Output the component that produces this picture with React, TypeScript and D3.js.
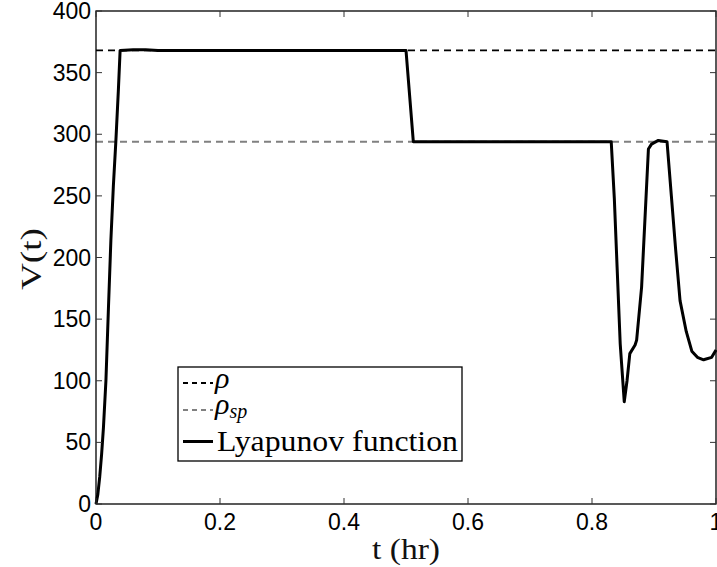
import React from "react";
import * as d3 from "d3";

const W = 717;
const H = 567;

// Lyapunov function samples (t in hr, V)
const tValues = [
  0, 0.003, 0.006, 0.009, 0.012, 0.016, 0.02, 0.024, 0.028, 0.032, 0.036, 0.0389,
  0.06, 0.08, 0.1, 0.3, 0.5, 0.5118, 0.7, 0.831,
  0.836, 0.8405, 0.8455, 0.852, 0.8565, 0.861, 0.8695, 0.872, 0.88, 0.891, 0.896, 0.907,
  0.921, 0.928, 0.935, 0.942, 0.952, 0.961, 0.97, 0.98, 0.993, 1.0,
];
const vValues = [
  0, 8, 22, 40, 62, 100, 158, 214, 258, 294, 335, 368,
  368.6, 368.6, 368, 368, 368, 294, 294, 294,
  248, 192, 130, 83, 100, 122, 129, 133, 176, 288, 292, 295,
  294, 250, 206, 165, 140, 124, 119, 117, 119, 125,
];
const rho = 368;
const rhoSp = 294;
const xTicks = [0, 0.2, 0.4, 0.6, 0.8, 1];
const yTicks = [0, 50, 100, 150, 200, 250, 300, 350, 400];
const xTickLabels = ["0", "0.2", "0.4", "0.6", "0.8", "1"];
const yTickLabels = ["0", "50", "100", "150", "200", "250", "300", "350", "400"];

export default function App() {
  const left = 96;
  const right = 716;
  const top = 11;
  const bottom = 504;
  const x = d3.scaleLinear().domain([0, 1]).range([left, right]);
  const y = d3.scaleLinear().domain([0, 400]).range([bottom, top]);

  const pts: [number, number][] = tValues.map((t, i) => [t, vValues[i]]);
  const line = d3
    .line<[number, number]>()
    .x((d) => x(d[0]))
    .y((d) => y(d[1]));

  const tickLen = 6;
  const sans = "'Liberation Sans', Arial, sans-serif";
  const serif = "'Liberation Serif', 'Times New Roman', serif";

  return (
    <svg
      width={W}
      height={H}
      style={{ position: "absolute", left: 0, top: 0, background: "#fff" }}
    >
      <rect x={0} y={0} width={W} height={H} fill="#fff" />
      {/* reference lines */}
      <line x1={x(0)} x2={x(1)} y1={y(rho)} y2={y(rho)} stroke="#000" strokeWidth={1.8} strokeDasharray="7,5" />
      <line x1={x(0)} x2={x(1)} y1={y(rhoSp)} y2={y(rhoSp)} stroke="#808080" strokeWidth={2} strokeDasharray="7,5" />
      {/* curve */}
      <path d={line(pts) || ""} fill="none" stroke="#000" strokeWidth={3} strokeLinejoin="round" />

      {/* frame */}
      <rect x={left} y={top} width={right - left} height={bottom - top} fill="none" stroke="#000" strokeWidth={1.3} />

      {/* x ticks */}
      {xTicks.map((t, i) => (
        <g key={"xt" + i}>
          <line x1={x(t)} x2={x(t)} y1={bottom} y2={bottom - tickLen} stroke="#333" strokeWidth={1} />
          <line x1={x(t)} x2={x(t)} y1={top} y2={top + tickLen} stroke="#333" strokeWidth={1} />
          <text x={x(t)} y={530} fontFamily={sans} fontSize={23} textAnchor="middle" fill="#000">
            {xTickLabels[i]}
          </text>
        </g>
      ))}
      {/* y ticks */}
      {yTicks.map((v, i) => (
        <g key={"yt" + i}>
          <line x1={left} x2={left + tickLen} y1={y(v)} y2={y(v)} stroke="#333" strokeWidth={1} />
          <line x1={right} x2={right - tickLen} y1={y(v)} y2={y(v)} stroke="#333" strokeWidth={1} />
          <text x={91} y={y(v) + 8} fontFamily={sans} fontSize={23} textAnchor="end" fill="#000">
            {yTickLabels[i]}
          </text>
        </g>
      ))}

      {/* axis labels */}
      <text x={406} y={559} fontFamily={serif} fontSize={29} textAnchor="middle" fill="#111" textLength={68} lengthAdjust="spacingAndGlyphs">
        t (hr)
      </text>
      <text
        transform={`translate(41,259) rotate(-90)`}
        fontFamily={serif}
        fontSize={30}
        textAnchor="middle"
        fill="#111"
        textLength={62}
        lengthAdjust="spacingAndGlyphs"
      >
        V(t)
      </text>

      {/* legend */}
      <rect x={178} y={367} width={284} height={94} fill="#fff" stroke="#000" strokeWidth={1.3} />
      <line x1={183} x2={213} y1={383} y2={383} stroke="#000" strokeWidth={1.8} strokeDasharray="5,4" />
      <text x={215} y={388} fontFamily={serif} fontStyle="italic" fontSize={30} fill="#000">ρ</text>
      <line x1={183} x2={213} y1={410} y2={410} stroke="#808080" strokeWidth={1.8} strokeDasharray="5,4" />
      <text x={215} y={414} fontFamily={serif} fontStyle="italic" fontSize={30} fill="#000">
        ρ<tspan fontSize={20} dy={4}>sp</tspan>
      </text>
      <line x1={183} x2={213} y1={441.5} y2={441.5} stroke="#000" strokeWidth={3} />
      <text x={217} y={451} fontFamily={serif} fontSize={29} fill="#000" textLength={241} lengthAdjust="spacingAndGlyphs">
        Lyapunov function
      </text>
    </svg>
  );
}
